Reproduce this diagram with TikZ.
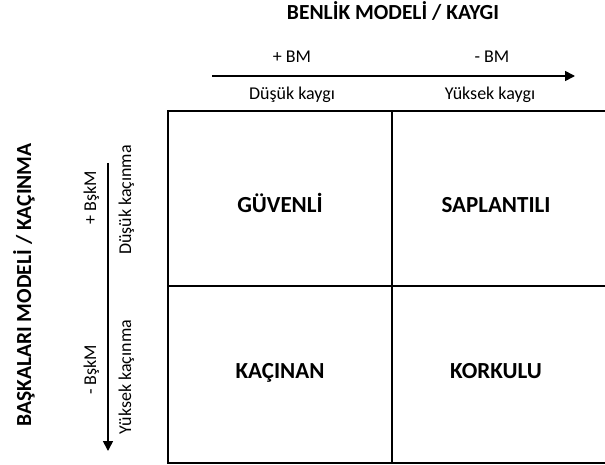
\documentclass[tikz,border=0pt]{standalone}
\usepackage{fontspec}
\setmainfont{Carlito}
\usetikzlibrary{arrows.meta}
\begin{document}
\begin{tikzpicture}[x=1pt,y=-1pt,
  line/.style={line width=1.6pt},
  axis/.style={line width=1.6pt,-{Triangle[length=10pt,width=10pt]}},
  title/.style={font=\fontsize{21.5}{24}\selectfont\bfseries, inner sep=0pt, anchor=base},
  lab/.style={font=\fontsize{18}{20}\selectfont, inner sep=0pt, anchor=base},
  quad/.style={font=\fontsize{23}{26}\selectfont\bfseries, inner sep=0pt, anchor=base}]
\useasboundingbox (0,0) rectangle (605,465);
\clip (0,0) rectangle (605,465);
% grid
\draw[line] (168,111) rectangle (612,463);
\draw[line] (392,111) -- (392,463);
\draw[line] (168,286) -- (612,286);
% quadrant labels
\node[quad] (q1) at (280,213) {GÜVENLİ};
\node[quad] (q2) at (496,213) {SAPLANTILI};
\node[quad] (q3) at (280,378) {KAÇINAN};
\node[quad] (q4) at (496,378) {KORKULU};
% top axis
\node[title] (t1) at (393,20) {BENLİK MODELİ / KAYGI};
\coordinate (a1) at (212,76);
\coordinate (a2) at (575,76);
\draw[axis] (a1) -- (a2);
\node[lab] (pbm) at (292,63) {+ BM};
\node[lab] (mbm) at (492,63) {- BM};
\node[lab] (dk) at (292,100) {Düşük kaygı};
\node[lab] (yk) at (490,100) {Yüksek kaygı};
% left axis
\node[title, rotate=90] (t2) at (31,285) {BAŞKALARI MODELİ / KAÇINMA};
\coordinate (b1) at (108,163);
\coordinate (b2) at (108,451);
\draw[axis] (b1) -- (b2);
\node[lab, rotate=90] (pb) at (96,198) {+ BşkM};
\node[lab, rotate=90] (mb) at (96,370) {- BşkM};
\node[lab, rotate=90] (dkc) at (131,200) {Düşük kaçınma};
\node[lab, rotate=90] (ykc) at (131,377) {Yüksek kaçınma};
\end{tikzpicture}
\end{document}
